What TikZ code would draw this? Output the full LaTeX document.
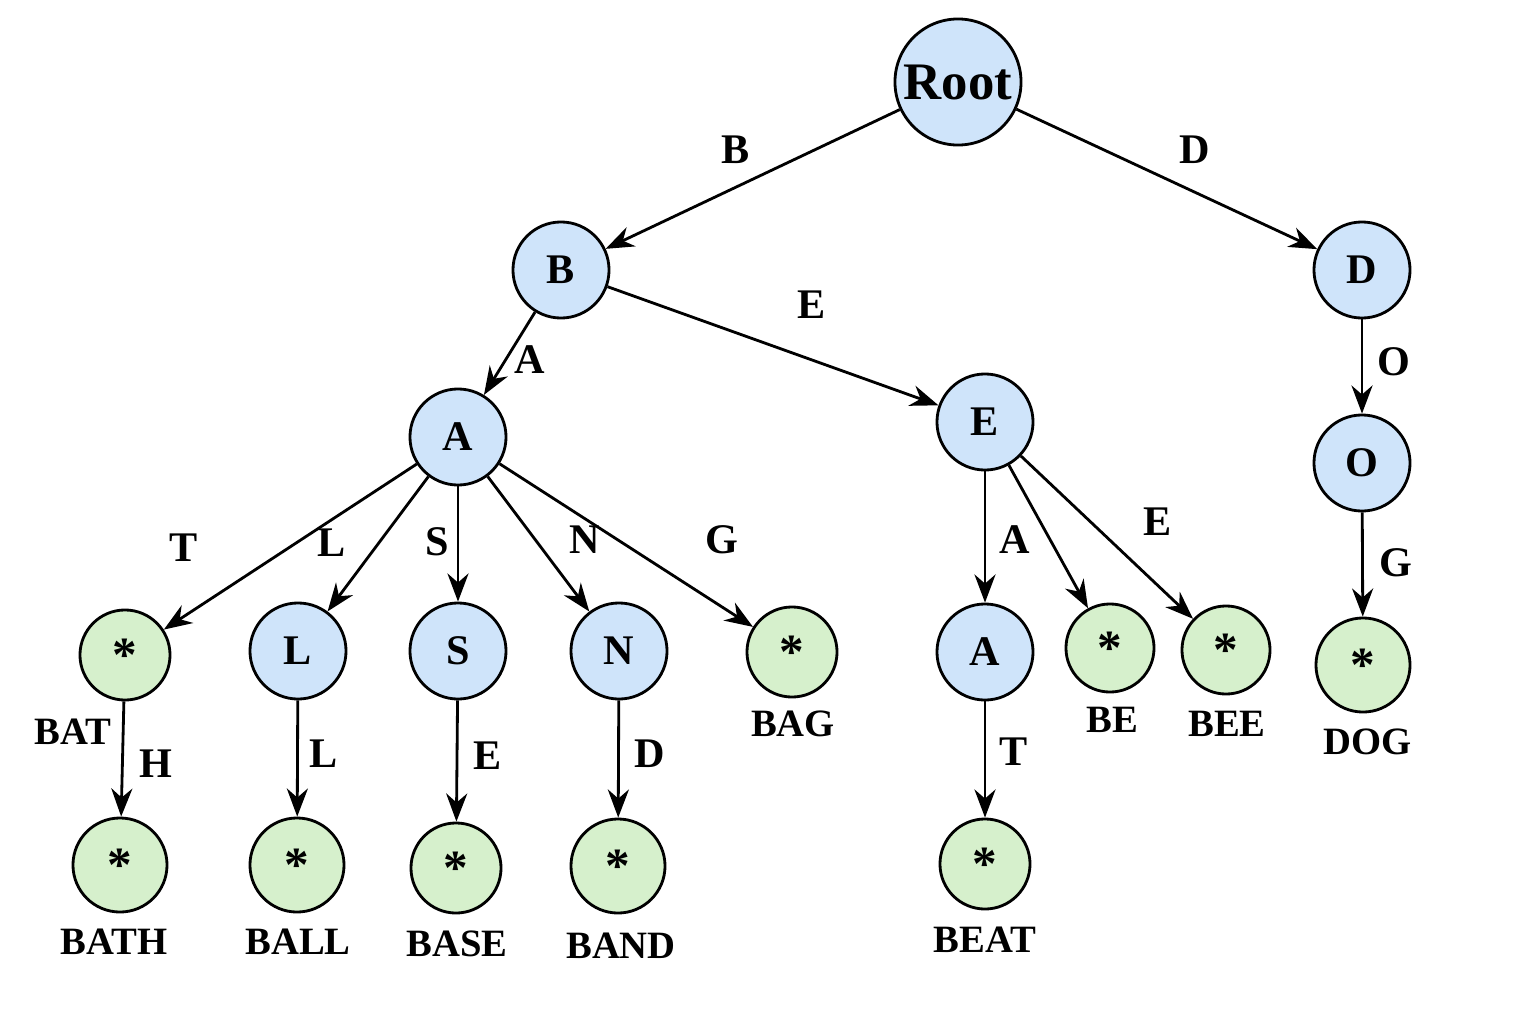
\documentclass[tikz,border=0pt]{standalone}
\usepackage{fontspec}
\setmainfont{Liberation Serif}
\usetikzlibrary{arrows.meta,positioning}
\definecolor{nodeblue}{RGB}{207,228,250}
\definecolor{nodegreen}{RGB}{214,240,204}
\begin{document}
\begin{tikzpicture}[
		x=0.01cm,y=-0.01cm,
		>={Stealth[length=8pt,width=6pt]},
		trie/.style={
			circle,
			draw,
			thick,
			fill=nodeblue,
			minimum size=0.96cm,
			inner sep=0pt,
			font=\bfseries\fontsize{12}{14}\selectfont
		},
		endmark/.style={
			circle,
			draw,
			thick,
			fill=nodegreen,
			minimum size=0.9cm,
			inner sep=0pt,
			font=\bfseries\fontsize{14}{16}\selectfont
		},
		edge/.style={
			->,
			thick
		},
		lbl/.style={
			font=\bfseries\fontsize{12}{14}\selectfont
		},
		word/.style={
			font=\bfseries\fontsize{11}{13}\selectfont
		}
		]
		\useasboundingbox (0,0) rectangle (1536,1024);
		% inner nodes
		\node[trie,minimum size=1.26cm,font=\bfseries\fontsize{15}{18}\selectfont] (root) at (958,82) {Root};
		\node[trie] (b) at (561,270) {B};
		\node[trie] (d) at (1362,270) {D};
		\node[trie] (ba) at (458,437) {A};
		\node[trie] (be) at (985,422) {E};
		\node[trie] (do) at (1362,463) {O};
		\node[trie] (bal) at (298,651) {L};
		\node[trie] (bas) at (458,651) {S};
		\node[trie] (ban) at (619,651) {N};
		\node[trie] (bea) at (985,652) {A};
		% end markers
		\node[endmark] (bat) at (125,655) {*};
		\node[endmark] (bag) at (792,652) {*};
		\node[endmark,minimum size=0.88cm] (bee1) at (1110,648) {*};
		\node[endmark,minimum size=0.88cm] (bee2) at (1226,650) {*};
		\node[endmark,minimum size=0.94cm] (dog) at (1363,665) {*};
		\node[endmark,minimum size=0.94cm] (bath) at (120,865) {*};
		\node[endmark,minimum size=0.94cm] (ball) at (297,865) {*};
		\node[endmark] (base) at (456,868) {*};
		\node[endmark,minimum size=0.94cm] (band) at (618,866) {*};
		\node[endmark] (beat) at (985,864) {*};
		% edges
		\draw[edge] (root) -- (b);
		\draw[edge] (root) -- (d);
		\draw[edge] (b) -- (ba);
		\draw[edge] (b) -- (be);
		\draw[edge] (d) -- (do);
		\draw[edge] (ba) -- (bat);
		\draw[edge] (ba) -- (bal);
		\draw[edge] (ba) -- (bas);
		\draw[edge] (ba) -- (ban);
		\draw[edge] (ba) -- (bag);
		\draw[edge] (be) -- (bea);
		\draw[edge] (be) -- (bee1);
		\draw[edge] (be) -- (bee2);
		\draw[edge] (do) -- (dog);
		\draw[edge] (bat) -- (bath);
		\draw[edge] (bal) -- (ball);
		\draw[edge] (bas) -- (base);
		\draw[edge] (ban) -- (band);
		\draw[edge] (bea) -- (beat);
		% edge labels
		\node[lbl] (lb) at (736,150) {B};
		\node[lbl] (ld) at (1195,150) {D};
		\node[lbl] (le) at (812,305) {E};
		\node[lbl] (la) at (530,360) {A};
		\node[lbl] (lo) at (1394,362) {O};
		\node[lbl] (lt) at (184,548) {T};
		\node[lbl] (ll) at (332,543) {L};
		\node[lbl] (ls) at (437,542) {S};
		\node[lbl] (ln) at (585,540) {N};
		\node[lbl] (lg) at (722,540) {G};
		\node[lbl] (la2) at (1015,540) {A};
		\node[lbl] (le2) at (1158,522) {E};
		\node[lbl] (lg2) at (1396,563) {G};
		\node[lbl] (lh) at (156,764) {H};
		\node[lbl] (ll2) at (324,754) {L};
		\node[lbl] (le3) at (488,756) {E};
		\node[lbl] (ld2) at (650,754) {D};
		\node[lbl] (lt2) at (1014,752) {T};
		% words
		\node[word] (wbat) at (73,732) {BAT};
		\node[word] (wbag) at (793,724) {BAG};
		\node[word] (wbe) at (1112,720) {BE};
		\node[word] (wbee) at (1227,724) {BEE};
		\node[word] (wdog) at (1368,742) {DOG};
		\node[word] (wbath) at (114,942) {BATH};
		\node[word] (wball) at (298,942) {BALL};
		\node[word] (wbase) at (457,944) {BASE};
		\node[word] (wband) at (621,946) {BAND};
		\node[word] (wbeat) at (985,940) {BEAT};
\end{tikzpicture}
\end{document}
